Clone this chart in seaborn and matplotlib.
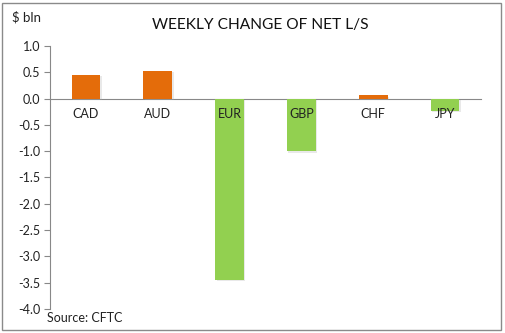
import matplotlib
matplotlib.use("Agg")
import matplotlib.pyplot as plt
import matplotlib.patheffects as pe
from matplotlib.patches import Rectangle
import seaborn as sns
import pandas as pd

currencies = ["CAD", "AUD", "EUR", "GBP", "CHF", "JPY"]
weekly_change = [0.45, 0.53, -3.45, -1.0, 0.06, -0.23]
y_ticks = [1.0, 0.5, 0.0, -0.5, -1.0, -1.5, -2.0, -2.5, -3.0, -3.5, -4.0]

ORANGE = "#E46C0A"
GREEN = "#92D050"
colors = [ORANGE if v >= 0 else GREEN for v in weekly_change]

sns.set_theme(style="white")
plt.rcParams["font.family"] = ["Lato", "DejaVu Sans"]

df = pd.DataFrame({"cur": currencies, "val": weekly_change})

fig = plt.figure(figsize=(5.05, 3.33), dpi=100)
ax = fig.add_axes([50 / 505, 1 - 309 / 333, (481 - 50) / 505, (309 - 46) / 333])

sns.barplot(data=df, x="cur", y="val", hue="cur", palette=colors,
            legend=False, width=0.4, ax=ax, saturation=1, linewidth=0)

for p in ax.patches:
    p.set_zorder(1)
    p.set_linewidth(0)
    p.set_path_effects([pe.SimplePatchShadow(offset=(1, -1), shadow_rgbFace="#aaaaaa",
                                             alpha=0.25), pe.Normal()])

ax.set_ylim(-4.0, 1.0)
ax.set_xlim(-0.5, len(currencies) - 0.5)
ax.set_yticks(y_ticks)
ax.set_yticklabels([f"{t:.1f}" for t in y_ticks], fontsize=9, color="#222222")
ax.set_xlabel("")
ax.set_ylabel("")

# category axis drawn along zero
for s in ["top", "right"]:
    ax.spines[s].set_visible(False)
ax.spines["bottom"].set_position(("data", 0))
ax.spines["bottom"].set_color("#888888")
ax.spines["left"].set_color("#888888")
ax.spines["bottom"].set_linewidth(0.8)
ax.spines["left"].set_linewidth(0.8)
ax.spines["bottom"].set_zorder(0.5)

ax.set_xticks(range(len(currencies)))
ax.set_xticklabels(currencies, fontsize=9, color="#222222")
ax.tick_params(axis="x", which="major", length=0, pad=7)
ax.set_xticks([i + 0.5 for i in range(-1, len(currencies))], minor=True)
ax.tick_params(axis="x", which="minor", length=4, width=0.8, color="#888888", direction="out")
ax.tick_params(axis="y", length=4, width=0.8, color="#888888", direction="out", left=True, pad=3)
ax.xaxis.set_zorder(5)

# chart frame
fig.patches.append(Rectangle((2 / 505, 1 - 330 / 333), 499 / 505, 327 / 333,
                             transform=fig.transFigure, fill=False,
                             edgecolor="#8a8a8a", linewidth=1.0))

fig.text(260 / 505, 1 - 25 / 333, "WEEKLY CHANGE OF NET L/S", ha="center", va="center",
         fontsize=11.2, color="#111111")
fig.text(12 / 505, 1 - 17 / 333, "$ bln", ha="left", va="center", fontsize=9.5, color="#222222")
fig.text(47 / 505, 1 - 318 / 333, "Source: CFTC", ha="left", va="center", fontsize=9,
         color="#222222")

fig.savefig("out.png", dpi=100)
